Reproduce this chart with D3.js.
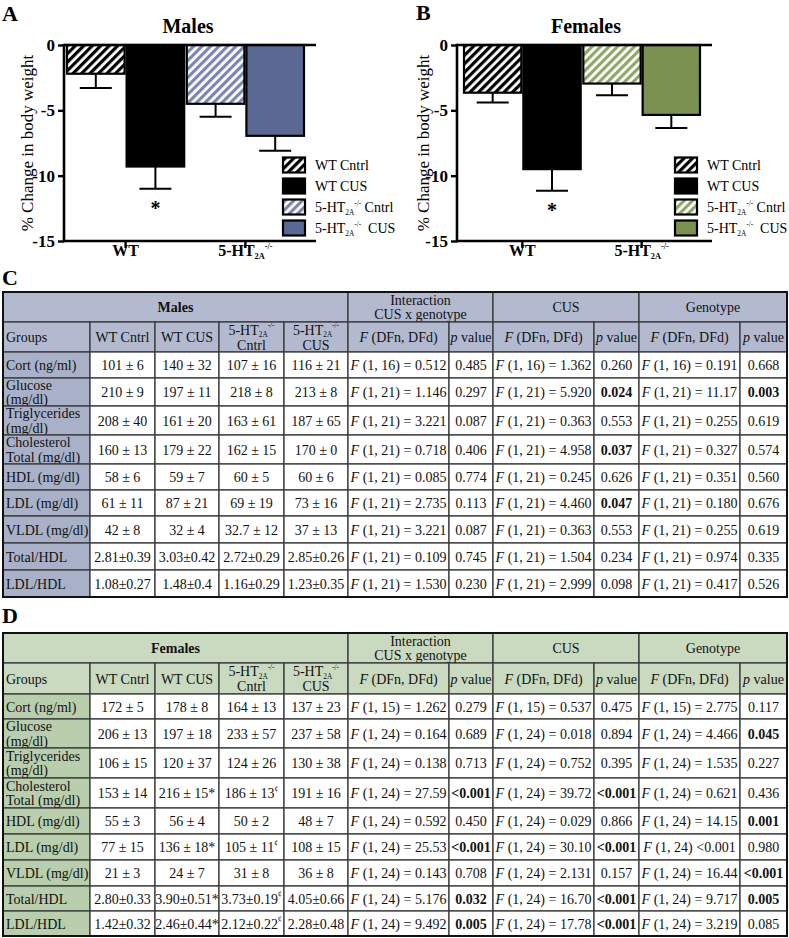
<!DOCTYPE html>
<html><head><meta charset="utf-8">
<script src="https://cdn.jsdelivr.net/npm/d3@7"></script>
<style>body{margin:0;background:#fff}svg{display:block}</style>
</head><body>
<script>
// ---------------- DATA ----------------
const groups = ["WT", "5-HT2A-/-"];
const conditions = ["Cntrl", "CUS"];
const legendLabels = ["WT Cntrl", "WT CUS", "5-HT2A-/- Cntrl", "5-HT2A-/-\u00a0 CUS"];
const yTicks = [0, -5, -10, -15];
const malesMean = [-2.2, -9.3, -4.5, -6.95];
const malesSem = [1.1, 1.7, 1.0, 1.15];
const femalesMean = [-3.65, -9.5, -2.95, -5.35];
const femalesSem = [0.75, 1.65, 0.9, 1.0];

const rowLabels = [["Cort (ng/ml)"], ["Glucose", "(mg/dl)"], ["Triglycerides", "(mg/dl)"], ["Cholesterol", "Total (mg/dl)"],
  ["HDL (mg/dl)"], ["LDL (mg/dl)"], ["VLDL (mg/dl)"], ["Total/HDL"], ["LDL/HDL"]];

const maleWTCntrl = ["101 ± 6","210 ± 9","208 ± 40","160 ± 13","58 ± 6","61 ± 11","42 ± 8","2.81±0.39","1.08±0.27"];
const maleWTCUS = ["140 ± 32","197 ± 11","161 ± 20","179 ± 22","59 ± 7","87 ± 21","32 ± 4","3.03±0.42","1.48±0.4"];
const maleKOCntrl = ["107 ± 16","218 ± 8","163 ± 61","162 ± 15","60 ± 5","69 ± 19","32.7 ± 12","2.72±0.29","1.16±0.29"];
const maleKOCUS = ["116 ± 21","213 ± 8","187 ± 65","170 ± 0","60 ± 6","73 ± 16","37 ± 13","2.85±0.26","1.23±0.35"];
const maleDf = ["(1, 16)","(1, 21)","(1, 21)","(1, 21)","(1, 21)","(1, 21)","(1, 21)","(1, 21)","(1, 21)"];
const maleInterF = ["0.512","1.146","3.221","0.718","0.085","2.735","3.221","0.109","1.530"];
const maleInterP = ["0.485","0.297","0.087","0.406","0.774","0.113","0.087","0.745","0.230"];
const maleCusF = ["1.362","5.920","0.363","4.958","0.245","4.460","0.363","1.504","2.999"];
const maleCusP = ["0.260","0.024","0.553","0.037","0.626","0.047","0.553","0.234","0.098"];
const maleGenoF = ["0.191","11.17","0.255","0.327","0.351","0.180","0.255","0.974","0.417"];
const maleGenoP = ["0.668","0.003","0.619","0.574","0.560","0.676","0.619","0.335","0.526"];

const femWTCntrl = ["172 ± 5","206 ± 13","106 ± 15","153 ± 14","55 ± 3","77 ± 15","21 ± 3","2.80±0.33","1.42±0.32"];
const femWTCUS = ["178 ± 8","197 ± 18","120 ± 37","216 ± 15*","56 ± 4","136 ± 18*","24 ± 7","3.90±0.51*","2.46±0.44*"];
const femKOCntrl = ["164 ± 13","233 ± 57","124 ± 26","186 ± 13^¢","50 ± 2","105 ± 11^¢","31 ± 8","3.73±0.19^¢","2.12±0.22^¢"];
const femKOCUS = ["137 ± 23","237 ± 58","130 ± 38","191 ± 16","48 ± 7","108 ± 15","36 ± 8","4.05±0.66","2.28±0.48"];
const femDf = ["(1, 15)","(1, 24)","(1, 24)","(1, 24)","(1, 24)","(1, 24)","(1, 24)","(1, 24)","(1, 24)"];
const femInterF = ["1.262","0.164","0.138","27.59","0.592","25.53","0.143","5.176","9.492"];
const femInterP = ["0.279","0.689","0.713","<0.001","0.450","<0.001","0.708","0.032","0.005"];
const femCusF = ["0.537","0.018","0.752","39.72","0.029","30.10","2.131","16.70","17.78"];
const femCusP = ["0.475","0.894","0.395","<0.001","0.866","<0.001","0.157","<0.001","<0.001"];
const femGenoF = ["2.775","4.466","1.535","0.621","14.15","<0.001","16.44","9.717","3.219"];
const femGenoP = ["0.117","0.045","0.227","0.436","0.001","0.980","<0.001","0.005","0.085"];

// ---------------- SETUP ----------------
const FONT = "'Liberation Serif', 'Times New Roman', serif";
const svg = d3.select("body").append("svg").attr("width", 789).attr("height", 938)
  .style("font-family", FONT);
const defs = svg.append("defs");
function hatch(id, color) {
  const p = defs.append("pattern").attr("id", id).attr("patternUnits", "userSpaceOnUse")
    .attr("width", 6).attr("height", 6).attr("patternTransform", "rotate(45)");
  p.append("rect").attr("width", 6).attr("height", 6).attr("fill", "#fff");
  p.append("rect").attr("width", 3.2).attr("height", 6).attr("fill", color);
}
hatch("hBlack", "#000");
hatch("hBlue", "#7b87b0");
hatch("hGreen", "#8fa868");

function rich(sel, parts, fs) {
  let shift = 0;
  parts.forEach(([t, type]) => {
    const ts = sel.append("tspan").text(t);
    let target = 0, size = fs;
    if (type === "sub") { target = fs * 0.2; size = fs * 0.52; }
    if (type === "sup") { target = -fs * 0.45; size = fs * 0.52; }
    if (type === "i") ts.attr("font-style", "italic");
    if (type === "b") ts.attr("font-weight", "bold");
    ts.attr("dy", target - shift).attr("font-size", size);
    shift = target;
  });
}
function koParts(prefix, suffix) {
  const p = [];
  if (prefix) p.push([prefix, "n"]);
  p.push(["5-HT", "n"], ["2A", "sub"], ["-/-", "sup"]);
  if (suffix) p.push([suffix, "n"]);
  return p;
}
function labelParts(label) {
  if (label.startsWith("5-HT2A-/-")) return koParts("", label.slice(9));
  return [[label, "n"]];
}

// ---------------- CHARTS ----------------
function drawChart(cfg) {
  const g = svg.append("g");
  const y = d3.scaleLinear().domain([-15, 0]).range([241, 45]);
  const xg = d3.scaleBand().domain(groups).range(cfg.barRange).paddingInner(0.005);
  const xc = d3.scaleBand().domain(conditions).range([0, xg.bandwidth()]);
  const bars = cfg.means.map((m, i) => ({ m, s: cfg.sems[i], g: groups[i >> 1], c: conditions[i % 2], fill: cfg.fills[i] }));

  g.selectAll("rect.bar").data(bars).join("rect").attr("class", "bar")
    .attr("x", d => xg(d.g) + xc(d.c) + 1).attr("width", xc.bandwidth() - 2)
    .attr("y", y(0)).attr("height", d => y(d.m) - y(0))
    .attr("fill", d => d.fill).attr("stroke", "#000").attr("stroke-width", 2.2);
  const cx = d => xg(d.g) + xc(d.c) + xc.bandwidth() / 2;
  g.selectAll("line.err").data(bars).join("line").attr("class", "err")
    .attr("x1", cx).attr("x2", cx).attr("y1", d => y(d.m)).attr("y2", d => y(d.m - d.s))
    .attr("stroke", "#000").attr("stroke-width", 2);
  g.selectAll("line.cap").data(bars).join("line").attr("class", "cap")
    .attr("x1", d => cx(d) - 16).attr("x2", d => cx(d) + 16)
    .attr("y1", d => y(d.m - d.s)).attr("y2", d => y(d.m - d.s))
    .attr("stroke", "#000").attr("stroke-width", 2);
  const star = bars[1];
  g.append("text").attr("x", cx(star)).attr("y", y(star.m - star.s) + 26)
    .attr("text-anchor", "middle").attr("font-size", 20).attr("font-weight", "bold").text("*");

  const ya = g.append("g").attr("transform", `translate(${cfg.axisX},0)`)
    .call(d3.axisLeft(y).tickValues(yTicks).tickSize(6).tickSizeOuter(0).tickFormat(d => String(d)));
  ya.select(".domain").remove();
  ya.selectAll(".tick line").attr("stroke", "#000").attr("stroke-width", 2.4);
  ya.selectAll(".tick text").attr("font-family", FONT).attr("font-size", 17).attr("font-weight", "bold")
    .attr("fill", "#000").attr("x", -9);
  g.append("line").attr("x1", cfg.axisX).attr("x2", cfg.axisX).attr("y1", y(0) - 1.2).attr("y2", y(-15) + 1.2)
    .attr("stroke", "#000").attr("stroke-width", 2.6);
  const xa = g.append("g").attr("transform", `translate(0,${y(-15)})`)
    .call(d3.axisBottom(xg).tickSize(7).tickSizeOuter(0));
  xa.select(".domain").remove();
  xa.selectAll(".tick line").attr("stroke", "#000").attr("stroke-width", 2.4);
  xa.selectAll(".tick text").each(function (d) {
    const t = d3.select(this).text("").attr("font-family", FONT).attr("font-size", 16)
      .attr("font-weight", "bold").attr("fill", "#000").attr("y", 15).attr("dy", "0.71em");
    rich(t, labelParts(d), 16);
  });
  g.append("line").attr("x1", cfg.axisX - 1.2).attr("x2", cfg.axisEnd).attr("y1", y(-15)).attr("y2", y(-15))
    .attr("stroke", "#000").attr("stroke-width", 2.6);
  g.append("line").attr("x1", cfg.axisX).attr("x2", cfg.axisEnd).attr("y1", y(0)).attr("y2", y(0))
    .attr("stroke", "#000").attr("stroke-width", 2.6);

  g.append("text").attr("transform", `translate(${cfg.ytitleX},${(y(0) + y(-15)) / 2}) rotate(-90)`)
    .attr("text-anchor", "middle").attr("dominant-baseline", "central").attr("font-size", 17)
    .text("% Change in body weight");
  g.append("text").attr("x", cfg.titleX).attr("y", 33).attr("text-anchor", "middle")
    .attr("font-size", 20).attr("font-weight", "bold").text(cfg.title);
  g.append("text").attr("x", cfg.labelX).attr("y", cfg.labelY).attr("font-size", 22)
    .attr("font-weight", "bold").text(cfg.label);

  legendLabels.forEach((lab, i) => {
    const cy = 165 + i * 21;
    g.append("rect").attr("x", cfg.legendX).attr("y", cy - 7.5).attr("width", 22).attr("height", 15)
      .attr("fill", cfg.fills[i]).attr("stroke", "#000").attr("stroke-width", 2.2);
    const t = g.append("text").attr("x", cfg.legendX + 32).attr("y", cy + 5).attr("font-size", 14);
    rich(t, labelParts(lab), 14);
  });
}

drawChart({ means: malesMean, sems: malesSem, title: "Males", label: "A", labelX: 2, labelY: 21,
  axisX: 64, axisEnd: 316, barRange: [66, 305], titleX: 188, ytitleX: 27, legendX: 283,
  fills: ["url(#hBlack)", "#000", "url(#hBlue)", "#5a6894"] });
drawChart({ means: femalesMean, sems: femalesSem, title: "Females", label: "B", labelX: 416, labelY: 20,
  axisX: 457, axisEnd: 712, barRange: [463, 701], titleX: 586, ytitleX: 423, legendX: 675,
  fills: ["url(#hBlack)", "#000", "url(#hGreen)", "#7a9150"] });

// ---------------- TABLES ----------------
const colX = [3, 90, 155, 219, 284, 348, 449, 493, 594, 639, 740, 787];
function isSig(p) { return p.startsWith("<") || parseFloat(p) < 0.05; }
function valueParts(s) {
  if (s.includes("^")) { const [a, b] = s.split("^"); return [[a, "n"], [b, "sup"]]; }
  return [[s, "n"]];
}
function fParts(df, v) {
  return [["F", "i"], [" " + df + (v.startsWith("<") ? " " : " = ") + v, "n"]];
}

function drawTable(cfg) {
  const g = svg.append("g").attr("font-size", 14);
  const R = cfg.rows;
  const FS = 14;
  function cell(c0, c1, r, fill, lines, align, gap) {
    const x0 = colX[c0], x1 = colX[c1], y0 = R[r], y1 = R[r + 1];
    g.append("rect").attr("x", x0).attr("y", y0).attr("width", x1 - x0).attr("height", y1 - y0)
      .attr("fill", fill).attr("stroke", "#3a3a3a").attr("stroke-width", 1.3);
    const cy = (y0 + y1) / 2;
    const n = lines.length;
    const lh = gap || 14.5;
    lines.forEach((parts, k) => {
      const ly = cy + (k - (n - 1) / 2) * lh + 5;
      const t = g.append("text").attr("y", ly)
        .attr("x", align === "start" ? x0 + 3 : (x0 + x1) / 2)
        .attr("text-anchor", align === "start" ? "start" : "middle").attr("fill", "#111");
      rich(t, parts, FS);
    });
  }
  const H = cfg.headerFill, L = cfg.leftFill, W = "#fff";
  cell(0, 5, 0, H, [[[cfg.title, "b"]]], "middle");
  cell(5, 7, 0, H, [[["Interaction", "n"]], [["CUS x genotype", "n"]]], "middle");
  cell(7, 9, 0, H, [[["CUS", "n"]]], "middle");
  cell(9, 11, 0, H, [[["Genotype", "n"]]], "middle");
  cell(0, 1, 1, H, [[["Groups", "n"]]], "start");
  cell(1, 2, 1, H, [[["WT Cntrl", "n"]]], "middle");
  cell(2, 3, 1, H, [[["WT CUS", "n"]]], "middle");
  cell(3, 4, 1, H, [koParts("", ""), [["Cntrl", "n"]]], "middle", 15);
  cell(4, 5, 1, H, [koParts("", ""), [["CUS", "n"]]], "middle", 15);
  [5, 7, 9].forEach(c => {
    cell(c, c + 1, 1, H, [[["F", "i"], [" (DFn, DFd)", "n"]]], "middle");
    cell(c + 1, c + 2, 1, H, [[["p", "i"], [" value", "n"]]], "middle");
  });
  rowLabels.forEach((lab, i) => {
    const r = i + 2;
    cell(0, 1, r, L, lab.map(s => [[s, "n"]]), "start");
    cfg.groupCols.forEach((arr, j) => cell(j + 1, j + 2, r, W, [valueParts(arr[i])], "middle"));
    cfg.stats.forEach(([fArr, pArr], j) => {
      const c = 5 + j * 2;
      cell(c, c + 1, r, W, [fParts(cfg.df[i], fArr[i])], "middle");
      cell(c + 1, c + 2, r, W, [[[pArr[i], isSig(pArr[i]) ? "b" : "n"]]], "middle");
    });
  });
  g.append("rect").attr("x", colX[0]).attr("y", R[0]).attr("width", colX[11] - colX[0])
    .attr("height", R[R.length - 1] - R[0]).attr("fill", "none").attr("stroke", "#111").attr("stroke-width", 2);
  svg.append("text").attr("x", 2).attr("y", cfg.labelY).attr("font-size", 22).attr("font-weight", "bold").text(cfg.label);
}

drawTable({ title: "Males", label: "C", labelY: 285,
  rows: [292, 322, 352, 378, 406, 435, 464, 490, 516, 543, 570, 597],
  headerFill: "#b3bad0", leftFill: "#a9b1c8",
  groupCols: [maleWTCntrl, maleWTCUS, maleKOCntrl, maleKOCUS], df: maleDf,
  stats: [[maleInterF, maleInterP], [maleCusF, maleCusP], [maleGenoF, maleGenoP]] });
drawTable({ title: "Females", label: "D", labelY: 623,
  rows: [633, 663, 694, 719, 748, 778, 808, 834, 860, 886, 911, 936],
  headerFill: "#c9dac0", leftFill: "#b9cead",
  groupCols: [femWTCntrl, femWTCUS, femKOCntrl, femKOCUS], df: femDf,
  stats: [[femInterF, femInterP], [femCusF, femCusP], [femGenoF, femGenoP]] });
</script>
</body></html>
